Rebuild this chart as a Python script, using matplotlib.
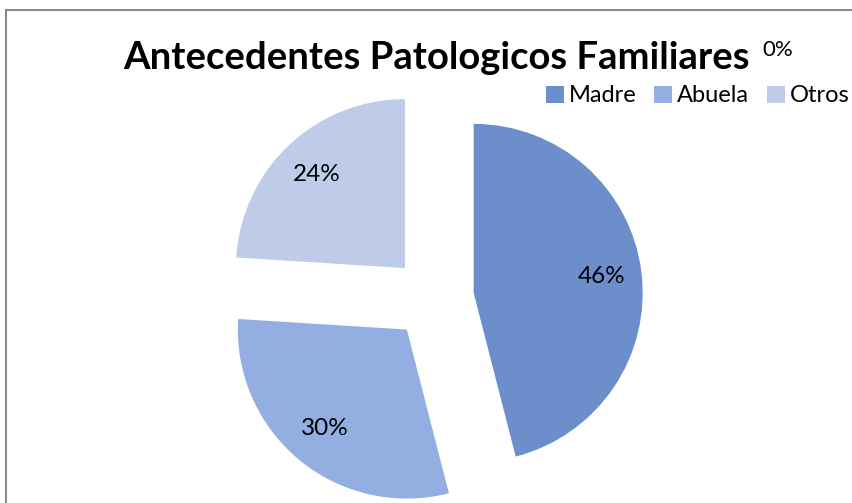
import matplotlib.pyplot as plt
from matplotlib.patches import Patch
from matplotlib.lines import Line2D

categories = ['Madre', 'Abuela', 'Otros', '']
values = [46, 30, 24, 0]
colors = ['#6c8fcb', '#93aee0', '#bfcce9', '#dde4f3']

W, H = 852, 503
fig = plt.figure(figsize=(W / 100, H / 100), dpi=100)
ax = fig.add_axes([0, 0, 1, 1])
plt.rcParams['font.family'] = ['Lato', 'DejaVu Sans']

# pie in pixel units, every slice pulled out the same distance
wedges, texts, autotexts = ax.pie(
    values, colors=colors, startangle=90, counterclock=False,
    center=(433, 205), radius=169, explode=[41] * len(values),
    autopct='%1.0f%%', pctdistance=0.76,
    wedgeprops=dict(linewidth=0),
    textprops=dict(fontsize=17.5, color='black', family=['Lato', 'DejaVu Sans']),
)
ax.set_xlim(0, W)
ax.set_ylim(0, H)
ax.set_aspect('equal')
ax.axis('off')

# the empty slice label sits next to the title
autotexts[-1].set_position((778, H - 50))
autotexts[-1].set_fontsize(16)

fig.text(436 / W, 1 - 58 / H, 'Antecedentes Patologicos Familiares',
         ha='center', va='center', fontsize=27.5, fontweight='bold',
         family=['Lato', 'DejaVu Sans'])

handles = [Patch(facecolor=c, edgecolor='none') for c in colors[:3]]
fig.legend(handles, categories[:3], loc='center right',
           bbox_to_anchor=(1.0, 1 - 96 / H), ncol=3, frameon=False,
           handlelength=0.75, handleheight=0.75, handletextpad=0.22,
           columnspacing=0.75, borderaxespad=0.0, borderpad=0.1,
           prop=dict(family=['Lato', 'DejaVu Sans'], size=17))

# chart border: only the top and left edges fall inside the picture
fig.add_artist(Line2D([5.5 / W, 1], [1 - 9.5 / H, 1 - 9.5 / H],
                      transform=fig.transFigure, color='#8a8a8a', lw=1.5))
fig.add_artist(Line2D([5.5 / W, 5.5 / W], [0, 1 - 9.5 / H],
                      transform=fig.transFigure, color='#8a8a8a', lw=1.5))

fig.savefig('out.png', dpi=100)
